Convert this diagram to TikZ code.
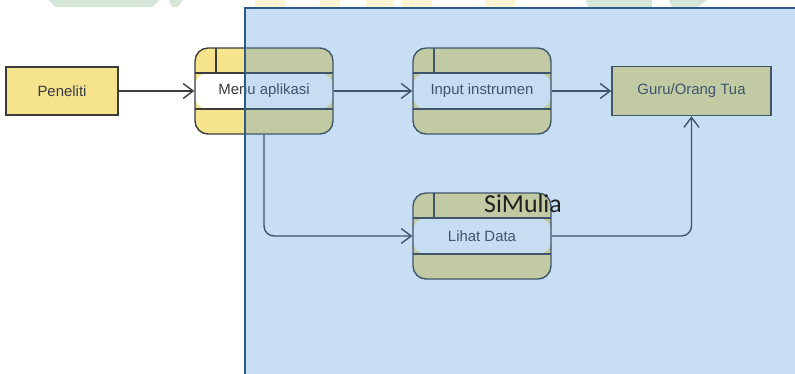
\documentclass[tikz,border=0pt]{standalone}
\usepackage{fontspec}
\setmainfont{Liberation Sans}
\newfontfamily\titlefont{Carlito}
\usetikzlibrary{arrows.meta,calc}

\definecolor{boxyellow}{HTML}{F6E48C}
\definecolor{edge}{HTML}{3C3C3C}
\definecolor{txt}{HTML}{3A3A44}
\definecolor{panel}{HTML}{4891D7}
\definecolor{panelframe}{HTML}{2C5A8A}
\definecolor{markgreen}{HTML}{D5E6D8}
\definecolor{markyellow}{HTML}{FFF4D0}

\begin{document}
\begin{tikzpicture}[x=0.02cm,y=-0.02cm,
  every node/.style={font=\fontsize{8.5}{10}\selectfont, text=txt},
  entity/.style={draw=edge, line width=0.8pt, fill=boxyellow, inner sep=0pt},
  proc/.style={draw=edge, line width=0.8pt, fill=boxyellow, inner sep=0pt,
    rounded corners=0.26cm, minimum width=2.76cm, minimum height=1.72cm,
    path picture={
      \coordinate (nw) at (path picture bounding box.north west);
      \coordinate (se) at (path picture bounding box.south east);
      \fill[white] ($(nw)+(0,25)$) rectangle ($(se)+(0,-25)$);
      \draw[edge, line width=0.8pt] ($(nw)+(0,25)$) -- ($(nw -| se)+(0,25)$);
      \draw[edge, line width=0.8pt] ($(se -| nw)+(0,-25)$) -- ($(se)+(0,-25)$);
      \draw[edge, line width=0.8pt] ($(nw)+(21,0)$) -- ($(nw)+(21,25)$);
    }},
  flow/.style={draw=edge, line width=0.8pt, -{Straight Barb[length=0.2cm, width=0.3cm]}},
  elbow/.style={rounded corners=0.2cm}]

\useasboundingbox (0,0) rectangle (795,373);
\clip (0,0) rectangle (795,373);

% faint marks along the top edge
\fill[markgreen] (46,-2) -- (162,-2) -- (152,7) -- (56,7) -- cycle;
\fill[markgreen] (168,-2) -- (184,-2) -- (178,7) -- (172,7) -- cycle;
\fill[markgreen] (585,-2) -- (652,-2) -- (652,7) -- (588,7) -- cycle;
\fill[markgreen] (668,-2) -- (710,-2) -- (698,7) -- (672,7) -- cycle;
\fill[markyellow] (255,-2) rectangle (285,7);
\fill[markyellow] (320,-2) rectangle (340,7);
\fill[markyellow] (366,-2) rectangle (394,7);
\fill[markyellow] (402,-2) rectangle (432,7);
\fill[markyellow] (485,-2) rectangle (515,7);

% entities and processes
\node[entity, minimum width=2.24cm, minimum height=0.96cm] (peneliti) at (62,91) {Peneliti};
\node[proc] (menu) at (264,91) {Menu aplikasi};
\node[proc] (input) at (482,91) {Input instrumen};
\node[proc] (lihat) at (482,236) {Lihat Data};
\node[entity, minimum width=3.18cm, minimum height=0.98cm] (guru) at (691.5,91) {Guru/Orang Tua};

% data flows
\draw[flow] (peneliti) -- (menu);
\draw[flow] (menu) -- (input);
\draw[flow] (input) -- (guru);
\draw[flow, elbow] (menu.south) |- (lihat.west);
\draw[flow, elbow] (lihat.east) -| (guru.south);

% translucent system panel laid over the right part
\fill[panel, fill opacity=0.3] (245,8) rectangle (800,380);
\draw[panelframe, line width=1.3pt] (800,8) -- (245,8) -- (245,380);

\node[anchor=base, font=\titlefont\fontsize{14.7}{16}\selectfont, text=black!88] (title) at (523,212) {SiMulia};
\end{tikzpicture}
\end{document}
